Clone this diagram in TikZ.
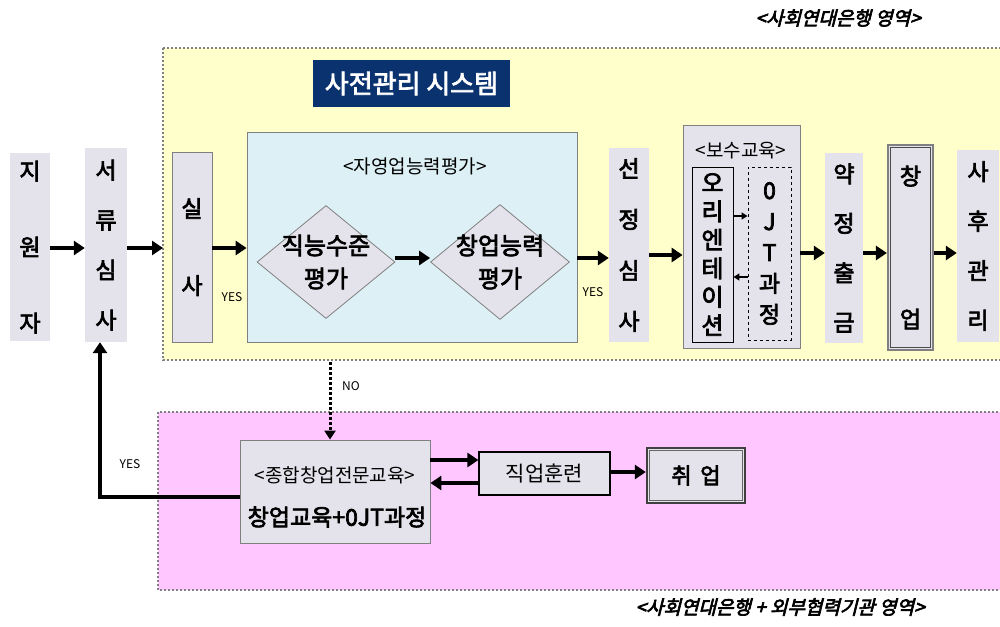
\documentclass[tikz,border=0pt]{standalone}
\usepackage{fontspec}
\usetikzlibrary{arrows.meta,shapes.geometric}
\newfontfamily\kr{Noto Sans CJK KR}
\newfontfamily\krb{Noto Sans CJK KR}[FakeBold=3]
\newfontfamily\kri{Noto Sans CJK KR}[FakeSlant=0.25,FakeBold=3.5]
\definecolor{yelbg}{RGB}{255,255,204}
\definecolor{pinkbg}{RGB}{255,198,255}
\definecolor{bluebg}{RGB}{220,240,245}
\definecolor{boxgray}{RGB}{228,226,234}
\definecolor{navy}{RGB}{10,50,110}
\definecolor{bordergray}{RGB}{128,128,128}
\begin{document}
\begin{tikzpicture}[x=1pt,y=-1pt,
  vbox/.style={fill=boxgray, align=center, inner sep=0pt},
  arr/.style={line width=3.8pt, -{Triangle[length=11pt,width=14pt]}},
  smallarr/.style={line width=1.4pt, -{Triangle[length=6pt,width=7pt]}},
  region/.style={draw=bordergray, line width=2pt, dotted},
  diam/.style={diamond, draw=bordergray, line width=0.8pt, fill=boxgray, inner sep=0pt},
  diamtext/.style={align=center, inner sep=0pt, font={\krb\fontsize{24}{33}\selectfont}},
  lbl/.style={font={\kr\fontsize{12}{14}\selectfont}, inner sep=1pt}]
\clip (0,0) rectangle (1000,626);
\fill[white] (0,0) rectangle (1000,626);
% regions
\draw[region, fill=yelbg] (163,48) rectangle (1010,360);
\draw[region, fill=pinkbg] (158,412) rectangle (1010,590);
% region titles
\node[font={\kri\fontsize{19}{22}\selectfont}] (toptitle) at (838,18) {<사회연대은행 영역>};
\node[font={\kri\fontsize{19}{22}\selectfont}] (bottitle) at (780,607) {<사회연대은행 + 외부협력기관 영역>};
\node[fill=navy, text=white, minimum width=197pt, minimum height=47pt, inner sep=0pt, font={\krb\fontsize{26}{30}\selectfont}] (sys) at (411.5,83.5) {사전관리 시스템};
% boxes
\node[vbox, minimum width=40pt, minimum height=188pt, font={\krb\fontsize{23}{76}\selectfont}] (jiwon) at (30,247) {지\\원\\자};
\node[vbox, minimum width=42pt, minimum height=194pt, font={\krb\fontsize{23}{50}\selectfont}] (seoryu) at (106,245) {서\\류\\심\\사};
\node[vbox, draw=bordergray, line width=0.8pt, minimum width=40pt, minimum height=190pt, font={\krb\fontsize{23}{77}\selectfont}] (silsa) at (192,247) {실\\사};
\node[fill=bluebg, draw=bordergray, line width=0.8pt, minimum width=330pt, minimum height=210pt, inner sep=0pt] (jayeong) at (412,237) {};
\node[font={\kr\fontsize{19}{22}\selectfont}] (jayeongt) at (415,166) {<자영업능력평가>};
\node[diam, minimum width=138pt, minimum height=113pt] (d1) at (326,262) {};
\node[diamtext] (d1t) at (d1.center) {직능수준\\평가};
\node[diam, minimum width=139pt, minimum height=115pt] (d2) at (500,262) {};
\node[diamtext] (d2t) at (d2.center) {창업능력\\평가};
\node[vbox, minimum width=40pt, minimum height=194pt, font={\krb\fontsize{23}{51}\selectfont}] (seonjeong) at (629,245) {선\\정\\심\\사};
\node[vbox, draw=bordergray, line width=0.8pt, minimum width=117pt, minimum height=223pt] (bosu) at (741.5,236.5) {};
\node[font={\kr\fontsize{19}{22}\selectfont}] (bosut) at (741,151) {<보수교육>};
\node[vbox, draw=black, line width=0.9pt, minimum width=41pt, minimum height=175pt, font={\krb\fontsize{24}{28.5}\selectfont}] (orient) at (712.5,254.5) {오\\리\\엔\\테\\이\\션};
\node[vbox, draw=black, dashed, line width=0.9pt, minimum width=43pt, minimum height=173pt, font={\krb\fontsize{23}{31}\selectfont}] (ojt) at (769.5,253.5) {0\\J\\T\\과\\정};
\node[vbox, minimum width=38pt, minimum height=190pt, font={\krb\fontsize{23}{49.5}\selectfont}] (yakjeong) at (844,248) {약\\정\\출\\금};
\node[vbox, draw=bordergray, line width=2.2pt, minimum width=45pt, minimum height=205pt, font={\krb\fontsize{23}{143}\selectfont}] (changeop) at (910.5,247.5) {창\\업};
\draw[black!70, line width=0.9pt] ([shift={(4,-4)}]changeop.south west) rectangle ([shift={(-4,4)}]changeop.north east);
\node[vbox, minimum width=42pt, minimum height=192pt, font={\krb\fontsize{23}{49.5}\selectfont}] (sahu) at (978,246) {사\\후\\관\\리};
% bottom boxes
\node[fill=boxgray, draw=bordergray, line width=0.8pt, minimum width=190pt, minimum height=103pt, inner sep=0pt] (jonghap) at (335,491.5) {};
\node[font={\kr\fontsize{19}{22}\selectfont}] (jonghapt) at (335,475) {<종합창업전문교육>};
\node[font={\krb\fontsize{23}{26}\selectfont}] (jonghapb) at (337,517) {창업교육+0JT과정};
\node[fill=boxgray, draw=black, line width=1.2pt, minimum width=131pt, minimum height=43pt, inner sep=0pt, font={\kr\fontsize{21}{24}\selectfont}] (jikeop) at (544.5,473.5) {직업훈련};
\node[fill=boxgray, draw=black!75, line width=2.4pt, minimum width=98pt, minimum height=55pt, inner sep=0pt, font={\krb\fontsize{22}{26}\selectfont}] (chwieop) at (696,475.5) {취\, 업};
\draw[black!60, line width=0.8pt] ([shift={(4,-4)}]chwieop.south west) rectangle ([shift={(-4,4)}]chwieop.north east);
% arrows top row
\draw[arr] (jiwon.east |- 0,248) -- (seoryu.west |- 0,248);
\draw[arr] (seoryu.east |- 0,248) -- (163,248);
\draw[arr] (silsa.east |- 0,248) -- (jayeong.west |- 0,248);
\node[lbl] (yes1) at (232,297) {YES};
\draw[arr] (d1.east |- 0,258) -- (d2.west |- 0,258);
\draw[arr] (jayeong.east |- 0,258) -- (seonjeong.west |- 0,258);
\node[lbl] (yes2) at (593,292) {YES};
\draw[arr] (seonjeong.east |- 0,255) -- (bosu.west |- 0,255);
\draw[arr] (bosu.east |- 0,253) -- (yakjeong.west |- 0,253);
\draw[arr] (yakjeong.east |- 0,253) -- (changeop.west |- 0,253);
\draw[arr] (changeop.east |- 0,253) -- (sahu.west |- 0,253);
% small arrows in bosu
\draw[smallarr] (orient.east |- 0,216) -- (ojt.west |- 0,216);
\draw[smallarr] (ojt.west |- 0,277) -- (orient.east |- 0,277);
% NO arrow
\draw[line width=3pt, dotted, -{Triangle[length=9pt,width=11pt]}] (330,362) -- (jonghap.north -| 330,0);
\node[lbl, anchor=west] (no) at (341,386) {NO};
% YES back arrow
\coordinate (yescorner) at (100,497);
\draw[line width=3.8pt, -{Triangle[length=11pt,width=14pt]}] (jonghap.west |- 0,497) -- (yescorner) -- (seoryu.south -| yescorner);
\node[lbl] (yes3) at (130,464) {YES};
% bottom arrows
\draw[arr] (jonghap.east |- 0,460) -- (jikeop.west |- 0,460);
\draw[arr] (jikeop.west |- 0,483) -- (jonghap.east |- 0,483);
\draw[arr] (jikeop.east |- 0,472) -- (chwieop.west |- 0,472);
\end{tikzpicture}
\end{document}
